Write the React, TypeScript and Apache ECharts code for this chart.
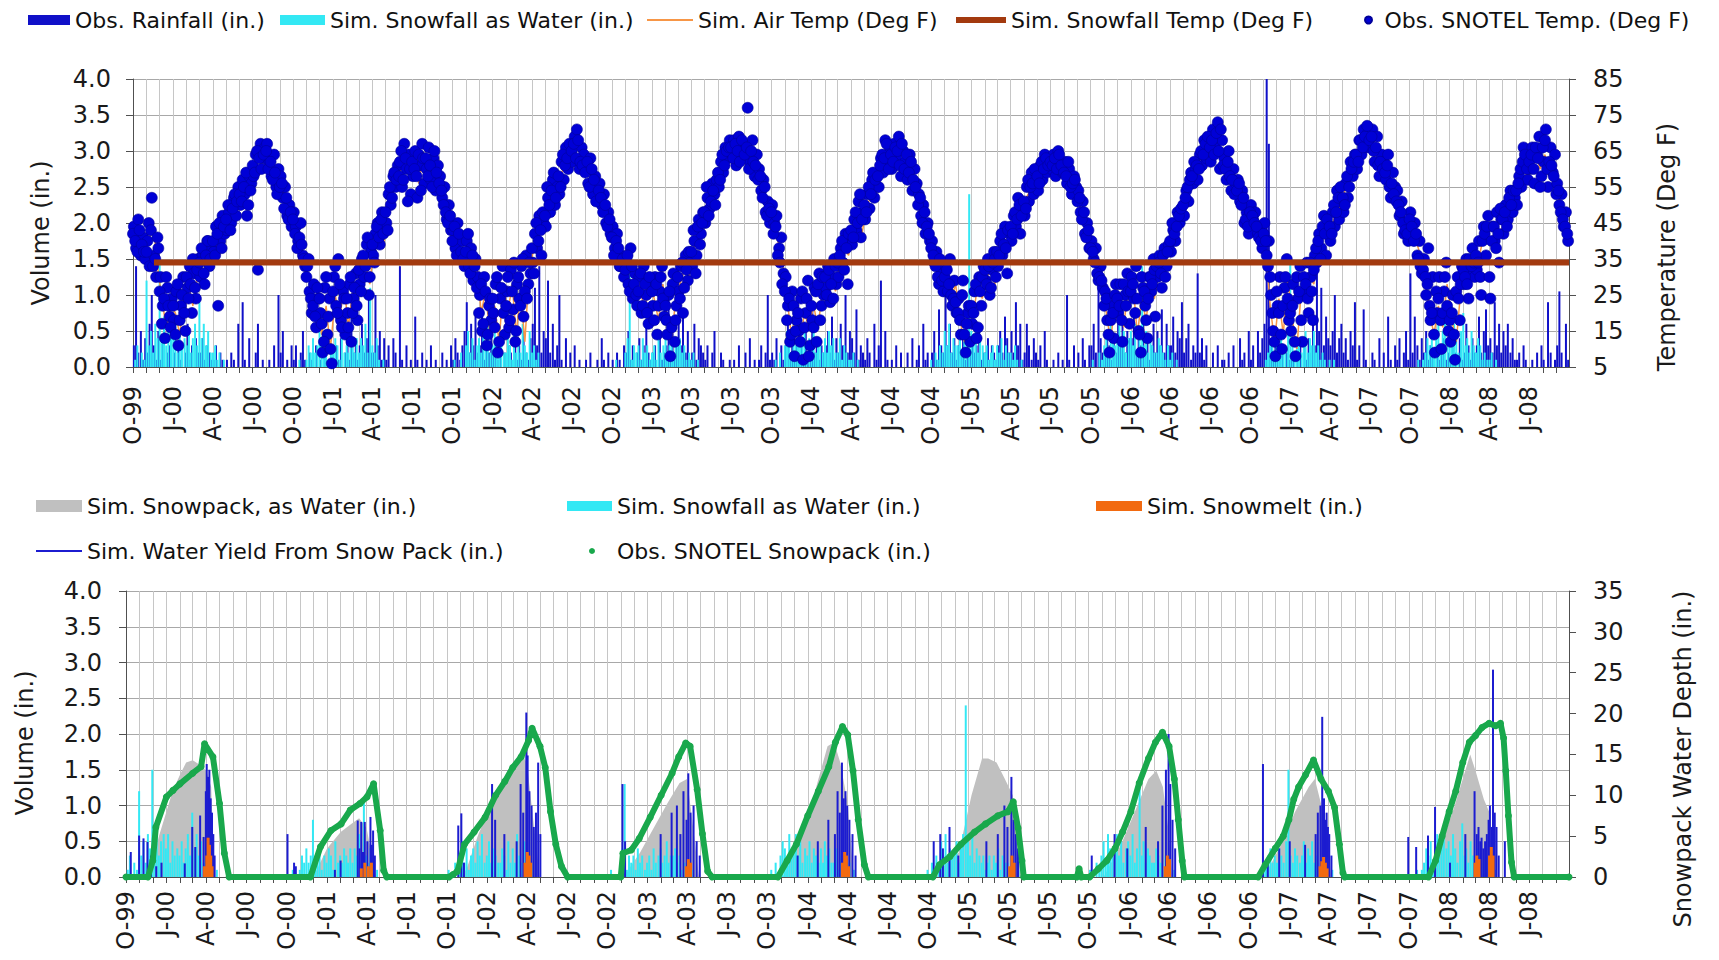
import React, { useEffect, useRef } from "react";
import * as echarts from "echarts";

// ================= DATA =================
// Rows = water years 2000..2008 (Oct..Sep).

// Obs. SNOTEL Temp. (Deg F): 6 readings per month (days ~3, 8, 13, ...)
const obsTempF: number[][] = [
  [44,38,46,36,41,35, 40,33,52,36,30,38, 30,22,13,27,19,24, 18,26,11,22,30,15, 27,33,20,31,24,35, 30,36,28,40,33,38, 37,44,22,40,47,42, 43,48,45,52,47,55, 50,57,53,47,58,56, 58,64,32,67,63,66, 67,62,58,64,55,60, 58,52,55,47,50,44],
  [48,44,40,45,36,33, 33,26,20,28,16,24, 20,9,27,14,24,6, 30,22,35,18,26,14, 20,28,12,24,31,18, 28,35,30,39,25,37, 36,42,45,39,48,44, 45,53,50,58,55,61, 62,55,67,60,64,53, 58,65,52,61,67,56, 60,66,57,63,54,61, 58,52,55,46,50,43],
  [43,38,45,35,40,33, 40,33,38,29,35,30, 25,15,30,11,22,18, 20,28,9,24,33,14, 26,16,32,21,12,28, 24,33,19,36,28,31, 34,42,38,47,36,45, 44,52,48,57,50,55, 53,62,57,66,60,64, 62,69,71,60,66,64, 61,56,63,53,58,55, 56,50,53,45,48,42],
  [44,38,42,33,36,30, 35,28,38,24,31,22, 30,20,33,25,17,28, 22,30,14,26,33,19, 18,25,8,28,12,22, 26,33,20,36,29,34, 33,40,36,46,42,48, 45,52,49,56,53,57, 55,62,59,66,63,68, 64,68,61,69,66,63, 66,77,62,68,58,64, 60,54,57,48,51,45],
  [50,45,47,38,41,31, 30,22,12,26,8,18, 15,24,7,20,29,11, 18,27,12,31,22,25, 27,33,23,30,35,28, 30,38,34,42,28,40, 39,46,43,51,41,48, 46,53,49,57,52,55, 55,63,59,68,61,66, 60,67,63,69,58,65, 62,57,64,54,60,56, 53,47,50,42,45,40],
  [40,34,37,28,32,26, 33,26,35,22,29,20, 24,14,29,9,20,12, 17,26,13,30,22,33, 29,35,25,32,37,30, 33,40,36,44,31,42, 40,47,44,52,42,49, 47,55,51,59,53,57, 54,61,57,64,59,62, 60,64,58,65,62,59, 62,56,60,53,58,55, 54,48,51,42,45,38],
  [40,35,38,29,33,27, 26,18,9,22,13,28, 20,28,12,25,31,17, 30,24,33,15,9,27, 22,13,30,26,35,19, 30,36,27,38,33,39, 37,43,40,48,45,47, 47,54,51,59,56,60, 57,64,61,68,63,66, 62,71,66,73,60,68, 63,57,65,54,60,56, 57,51,54,45,48,42],
  [50,46,48,42,44,38, 45,36,40,25,15,8, 22,30,10,27,35,18, 15,28,8,24,33,12, 26,34,20,30,18,36, 34,42,38,47,36,44, 40,48,44,54,46,51, 48,56,52,62,58,64, 60,68,64,71,66,70, 66,71,62,69,58,64, 62,57,64,52,59,55, 54,47,51,42,45,40],
  [48,42,45,36,40,31, 35,25,38,18,30,9, 20,30,10,26,34,15, 12,25,7,30,18,33, 28,35,24,32,38,30, 32,40,25,44,36,47, 24,44,40,48,34,46, 42,50,46,54,48,52, 50,58,55,66,62,57, 60,66,56,64,69,58, 62,71,55,66,59,64, 56,50,53,44,48,40],
];

// Obs. SNOTEL Temp. (Deg F): further 6 readings per month (days ~1, 6, 11, ...)
const obsTempExtraF: number[][] = [
  [42,40,37,43,39,37, 37,45,43,33,35,41, 26,17,24,30,22,16, 22,14,28,18,25,20, 30,24,28,35,27,32, 34,38,31,36,40,35, 40,36,42,45,38,44, 46,50,43,49,53,51, 53,51,55,59,50,54, 61,59,65,63,60,64, 65,60,62,57,59,53, 55,56,49,52,46,48],
  [46,42,38,41,39,35, 30,35,24,22,19,27, 24,17,12,30,19,10, 26,33,20,28,16,24, 24,16,30,20,27,22, 32,26,36,33,41,30, 39,34,44,41,46,42, 48,43,55,52,59,57, 58,65,57,63,51,60, 62,60,58,64,54,63, 63,58,61,55,65,59, 56,54,50,48,45,47],
  [40,44,36,42,37,35, 37,42,31,36,33,27, 20,28,17,26,14,24, 24,16,30,12,27,20, 22,30,18,26,34,15, 30,22,35,26,24,34, 38,31,45,40,43,48, 47,55,50,54,59,52, 58,55,64,61,63,67, 65,67,63,68,62,61, 59,62,55,60,57,51, 54,52,48,50,44,46],
  [41,36,40,38,33,35, 32,36,26,33,28,25, 26,31,22,28,20,30, 26,18,28,22,30,24, 22,14,26,16,31,18, 30,24,34,27,32,37, 37,43,31,44,39,45, 48,55,47,51,54,50, 59,57,64,61,65,66, 66,63,67,65,62,68, 64,66,60,65,62,61, 57,58,52,55,47,49],
  [48,42,44,36,34,28, 26,18,24,14,22,15, 20,12,26,16,24,8, 22,16,26,28,18,30, 30,25,32,28,24,33, 34,36,40,32,38,42, 43,41,48,45,53,46, 50,48,55,53,59,57, 58,61,64,63,67,60, 64,62,66,65,61,67, 60,64,59,62,57,55, 50,52,45,48,44,42],
  [38,36,33,30,35,29, 30,32,28,25,24,23, 20,18,25,14,17,22, 22,20,28,16,26,30, 32,28,33,27,34,35, 37,36,42,39,38,43, 44,42,48,46,50,47, 51,49,57,55,56,60, 58,56,62,60,63,61, 62,61,63,60,64,61, 59,58,62,55,56,57, 51,52,46,48,41,43],
  [38,37,34,31,30,29, 22,24,14,18,20,25, 24,22,18,28,22,26, 26,28,20,24,14,30, 26,18,24,30,28,32, 33,34,31,36,30,37, 40,45,42,44,47,49, 50,52,55,57,58,62, 61,60,65,64,67,69, 66,68,64,70,65,71, 61,60,62,58,57,53, 54,56,50,52,46,44],
  [48,47,45,44,41,40, 42,40,33,30,20,12, 26,20,14,22,30,24, 20,22,12,30,26,18, 30,28,24,34,26,32, 38,40,35,44,42,46, 44,42,50,48,52,55, 52,50,58,55,60,62, 64,62,68,66,69,72, 68,69,65,66,61,62, 60,59,61,55,56,53, 51,50,48,45,43,42],
  [46,44,40,42,35,33, 32,30,28,22,20,14, 26,24,18,20,30,22, 18,20,14,26,24,28, 32,30,28,35,33,34, 36,34,30,40,42,44, 30,40,44,38,42,49, 46,48,44,52,50,54, 54,56,60,62,64,60, 62,64,60,66,63,55, 66,68,60,62,61,58, 53,54,48,46,44,42],
];

// Sim. Air Temp (Deg F): 3 readings per month
const simAirTempF: number[][] = [
  [42,38,36, 40,45,33, 24,16,22, 20,14,24, 28,22,30, 32,36,38, 40,36,44, 46,50,53, 52,56,55, 60,64,62, 64,58,60, 55,50,46],
  [45,42,36, 30,24,20, 14,22,10, 25,18,28, 16,26,22, 30,34,28, 40,44,38, 50,54,58, 60,64,58, 62,56,63, 60,64,58, 54,50,46],
  [42,38,36, 36,32,34, 20,26,14, 22,12,28, 20,28,14, 26,12,32, 38,42,44, 48,52,54, 58,62,60, 66,62,64, 58,60,55, 52,48,45],
  [40,36,33, 30,34,26, 26,20,30, 24,18,28, 18,12,24, 28,32,30, 38,42,45, 50,54,52, 60,64,62, 66,64,67, 64,62,60, 56,52,48],
  [46,40,35, 24,14,20, 12,20,16, 22,16,26, 28,30,26, 34,38,36, 44,46,42, 50,52,54, 60,64,62, 64,62,66, 60,58,56, 50,46,43],
  [36,32,30, 30,24,28, 18,12,22, 20,28,24, 30,32,28, 36,40,38, 44,46,48, 52,54,56, 58,60,62, 62,60,63, 58,56,57, 50,44,40],
  [36,32,30, 20,12,24, 22,16,28, 28,14,24, 18,28,24, 32,34,36, 42,44,46, 52,55,58, 60,64,62, 66,68,64, 60,58,56, 52,48,44],
  [46,44,40, 38,22,12, 24,14,30, 18,10,26, 24,30,28, 38,42,40, 44,48,50, 54,58,60, 64,66,68, 66,62,64, 60,58,56, 50,46,43],
  [44,40,36, 30,20,14, 22,16,28, 18,12,26, 30,32,34, 34,40,42, 40,44,42, 46,50,52, 56,60,58, 62,64,60, 64,60,62, 52,48,44],
];

// Sim. Snowfall Temp (Deg F): constant threshold
const SNOWFALL_TEMP_F = 34;
const snowfallTempRange: [string, string] = ["1999-11-18", "2008-09-30"];

// Obs. Rainfall (in.): 6 readings per month
const obsRainIn: number[][] = [
  [0.3,1.4,0.2,0.5,0.1,0.4, 0.2,0.6,1.0,0.3,0.1,0.5, 0.1,0.4,0,0.2,0.3,0, 0.2,0,0.3,0.1,0,0.2, 0.6,0.1,0.3,0,0.4,0.2, 0.2,0.4,0.1,0.3,0.2,0.1, 0.1,0.3,0,0.2,0.1,0, 0.1,0,0.2,0.1,0,0.6, 0,0.9,0.1,0,0.4,0, 0,0.2,0.6,0,0.1,0, 0,0.1,0,0.3,0,1.0, 0.2,0.5,0,0.1,0,0.3],
  [0.1,0.3,0,0.2,0.5,0.1, 0,0.2,0.1,0,0.3,0, 0.1,0,0.2,0,0.1,0, 0,0.3,0.1,0.4,0,0.2, 0.5,0.1,0.9,0.2,0.4,0.1, 0.3,0.6,0.2,0.4,1.0,0.2, 0.2,1.0,0.3,0.5,0.1,0.4, 0.1,0.3,0,0.4,0.2,0, 1.4,0.1,0,0.3,0,0.1, 0,0.7,0.1,0,0.2,0, 0.1,0,0.3,0,0.1,0, 0,0.2,0,0.1,0,0.3],
  [0.1,0.4,0.2,0.1,0.3,0.5, 0.9,0.2,0.6,0.3,0.7,0.2, 0.3,0.8,0.1,0.4,0.2,0.5, 0.2,0.4,0.1,0.3,0,0.2, 0.1,0.3,0.2,0,0.4,0.1, 0.3,0.1,0.5,0.2,0.1,0.4, 0.6,1.1,0.3,1.4,0.2,0.5, 0.4,1.2,0.2,0.6,0.1,0.3, 1.0,0.1,0,0.4,0,0.2, 0,0.3,0,0.1,0,0, 0.1,0,0.2,0,0,0.1, 0,0.4,0.1,0,0.2,0],
  [0.1,0,0.2,0.1,0,0.3, 0.2,0.5,0.1,0.3,0,0.2, 0.4,0.1,0.3,0.6,0.2,0.1, 0.2,0.3,0,0.5,0.1,0.2, 0.3,1.0,0.2,0.6,0.1,0.4, 1.2,0.3,0.7,0.2,0.5,0.1, 0.2,0.6,0.1,0.4,0.3,0.2, 0.1,0.3,0,0.2,0.5,0, 0,0.2,0.1,0,0,0.1, 0,0.1,0,0.3,0,0, 0.2,0,0.4,0,0.1,0, 0.1,0.3,0,0.2,1.0,0.1],
  [0.2,0.1,0.4,0,0.3,0.1, 0.3,0.6,0.2,0.4,0.1,0.3, 0.2,0.4,0.1,0.5,0.2,0.3, 0.9,0.2,0.4,0.1,0.3,0.2, 0.3,0.5,0.2,0.7,0.1,0.4, 0.2,0.6,0.3,1.0,0.2,0.5, 0.4,0.2,0.8,0.1,0.3,0.2, 0.1,0.4,0.2,0,0.6,0.1, 0.3,1.2,0,0.5,0.1,0, 0.1,0,0.3,0,0.2,0, 0,0.2,0,0.4,0,0.1, 0.3,0,0.6,0.1,0.2,0],
  [0.2,0.5,0.1,0.8,0.3,0.2, 1.4,0.3,0.6,0.2,0.4,0.1, 0.3,0.2,0.5,0.1,0.4,0.2, 0.4,0.2,0.3,0.6,0.1,0.2, 0.2,0.4,0.1,0.3,0.2,0.1, 0.3,0.5,0.2,0.7,0.4,0.2, 0.5,0.2,0.9,0.3,0.6,0.1, 0.2,0.6,0.3,0.1,0.4,0.2, 0.1,0.3,0,0.5,0.1,0, 0,0.1,0,0.2,0,0.1, 0,1.0,0.1,0,0.3,0, 0.2,0,0.4,0.1,0,0.3],
  [0.3,0.6,0.2,1.5,0.4,0.2, 0.2,0.5,0.3,0.1,0.4,0.2, 0.6,0.3,0.9,0.2,0.5,0.4, 0.4,0.7,0.2,0.5,0.3,0.6, 0.2,0.4,0.1,0.3,0.6,0.2, 0.5,0.3,0.8,0.2,0.6,0.3, 0.3,0.7,0.2,0.5,0.4,0.9, 0.2,0.4,0.6,0.1,0.3,0.2, 1.3,0.2,0.4,0.1,0.3,0, 0,0.2,0,0.3,0,0.1, 0.1,0,0.2,0,0.3,0, 0,0.4,0.1,0.2,0,0.5],
  [0.1,0.3,0,0.5,0.2,0.4, 0.6,4.3,3.1,0.4,0.2,0.3, 0.2,0.1,0.3,0,0.2,0.1, 0.1,0.2,0,0.1,0.3,0, 0.3,0.1,0.4,0.2,0.6,0.3, 1.4,0.5,1.1,0.3,0.7,0.4, 0.3,0.5,1.0,0.2,0.4,0.6, 0.2,0.4,0.1,0.5,0.3,0.9, 0.1,0.3,0,0.8,0.1,0, 0,0.2,0.1,0,0.4,0, 0.2,0,0.7,0.1,0,0.3, 0.1,0.4,0,0.2,0.5,0.1],
  [1.3,0.2,0.7,0.3,0.1,0.4, 0.2,0.5,0.1,0.3,0.2,0, 0.3,0.1,0.2,0.4,0.1,0.2, 0.1,0.3,0.2,0,0.4,0.1, 0.2,0.6,0.3,0.1,0.4,0.2, 0.3,0.7,0.2,0.5,0.8,0.3, 0.4,0.2,0.9,0.3,0.6,0.2, 0.5,0.3,0.6,0.2,0.4,0.1, 0.1,0.2,0,0.3,0.1,0, 0,0.1,0,0.2,0,0.3, 0.1,0,0.9,0.2,0,0.1, 0.3,1.05,0.2,0,0.6,0.1],
];

// Sim. Snowfall as Water (in.): 6 readings per month, Oct..May
const simSnowfallIn: number[][] = [
  [0,0.1,0.3,0,0.2,0.1, 1.2,0.3,0.5,0.2,0.6,0.4, 1.5,0.4,0.7,0.3,0.5,0.6, 0.4,0.6,0.2,0.5,0.3,0.4, 0.3,0.5,0.2,0.4,0.6,0.3, 0.9,0.4,0.6,0.3,0.5,0.2, 0.2,0.3,0.1,0.2,0,0.1, 0,0,0,0,0,0],
  [0,0,0,0.1,0,0, 0.1,0.3,0.2,0.4,0.2,0.3, 0.8,0.3,0.2,0.4,0.1,0.3, 0.2,0.4,0.3,0.1,0.5,0.2, 0.3,0.2,0.4,0.3,0.2,0.4, 0.2,0.4,0.3,0.6,0.2,1.1, 0.3,0.2,0.4,0.1,0,0.1, 0,0,0,0,0,0],
  [0,0.1,0,0,0.2,0, 0.3,0.5,0.2,0.4,0.1,0.3, 0.4,0.2,0.5,0.3,0.6,0.2, 0.3,0.5,0.2,0.4,0.3,0.2, 0.2,0.4,0.3,0.1,0.5,0.2, 0.4,0.2,0.6,0.3,0.2,0.5, 0.2,0.3,0.1,0.2,0,0, 0,0,0,0,0,0],
  [0,0,0.1,0,0,0, 0.2,0.4,1.3,0.1,0.3,0.2, 0.3,0.1,0.4,0.2,0.3,0.1, 0.2,0.3,0.1,0.4,0.2,0.3, 0.4,0.2,0.3,0.5,0.2,0.3, 0.3,0.4,0.2,0.3,0.1,0.2, 0.1,0.2,0,0.1,0,0, 0,0,0,0,0,0],
  [0,0,0.1,0,0.2,0, 0.3,0.5,0.4,0.2,0.6,0.3, 0.4,0.6,0.3,0.5,0.2,0.4, 0.3,0.5,0.2,0.4,0.3,0.2, 0.4,0.2,0.5,0.3,0.4,0.2, 0.2,0.4,0.1,0.3,0.2,0.1, 0.1,0.2,0,0.1,0,0, 0,0,0,0,0,0],
  [0.1,0,0.2,0.1,0.3,0.2, 0.5,0.3,0.6,0.2,0.4,0.3, 0.3,0.5,0.2,0.4,0.6,2.4, 0.5,0.3,0.6,0.2,0.4,0.3, 0.2,0.3,0.1,0.2,0.3,0.1, 0.3,0.2,0.4,0.1,0.3,0.2, 0.2,0.1,0.3,0.1,0,0.1, 0,0,0,0,0,0],
  [0,0.1,0,0,0.2,0.1, 0.3,0.5,0.2,0.6,0.4,0.3, 0.4,0.6,0.3,0.5,0.2,0.4, 0.5,0.3,0.6,0.2,0.4,1.4, 0.3,0.5,0.2,0.4,0.3,0.2, 0.2,0.4,0.3,0.2,0.1,0.3, 0.1,0.2,0,0.1,0,0, 0,0,0,0,0,0],
  [0,0,0,0,0,0, 0,0.1,0.2,0.3,0.4,0.2, 0.3,0.2,0.4,0.3,0.2,0.5, 1.5,0.3,0.2,0.4,0.3,0.2, 0.3,0.5,0.2,0.4,0.3,0.5, 0.2,0.3,0.1,0.2,0.1,0, 0.1,0,0.1,0,0,0, 0,0,0,0,0,0],
  [0,0,0,0,0.1,0, 0.1,0.2,0.4,0.3,0.5,0.2, 0.4,0.6,0.3,0.5,0.7,0.4, 0.5,0.3,0.6,0.4,0.2,0.5, 0.75,0.3,0.4,0.2,0.5,0.3, 0.2,0.4,0.3,0.1,0.2,0.1, 0.1,0.2,0,0.1,0,0, 0,0,0,0,0,0],
];

// Sim. Snowpack, as Water (in.) – right axis
const simSnowpackIn: [string, number][] = [
  ["1999-11-20",0],["1999-12-01",2],["1999-12-15",5],["2000-01-01",8],["2000-01-15",10.5],["2000-02-01",12.5],["2000-02-15",14],["2000-03-01",14.3],["2000-03-15",13.8],["2000-04-01",13],["2000-04-12",11],["2000-04-20",0],
  ["2000-11-25",0],["2000-12-05",0.5],["2001-01-01",3.5],["2001-02-01",5.5],["2001-02-25",6.5],["2001-03-15",7.2],["2001-04-01",6],["2001-04-15",2],["2001-04-22",0],
  ["2001-11-01",0],["2001-11-15",1],["2001-12-10",5],["2002-01-10",9],["2002-02-05",11],["2002-03-01",13.5],["2002-03-20",15],["2002-04-01",14],["2002-04-20",5],["2002-04-30",0],
  ["2002-11-10",0],["2002-11-20",1],["2002-12-15",3],["2003-01-15",6],["2003-02-15",9],["2003-03-15",11.5],["2003-04-01",12],["2003-04-15",6],["2003-04-28",0],
  ["2003-11-05",0],["2003-11-15",1],["2003-12-15",5],["2004-01-15",10],["2004-02-15",16],["2004-03-01",16.5],["2004-03-15",14],["2004-04-01",9],["2004-04-10",3],["2004-04-15",0],
  ["2004-10-20",0],["2004-10-30",1],["2004-12-10",3],["2005-01-08",10],["2005-02-01",14.5],["2005-02-15",14.5],["2005-03-06",14],["2005-03-25",12],["2005-04-12",10],["2005-04-25",3],["2005-05-02",0],
  ["2005-11-05",0],["2005-11-15",1],["2005-12-15",4],["2006-01-15",8],["2006-02-15",12],["2006-03-05",13],["2006-03-20",11],["2006-04-01",6],["2006-04-10",0],
  ["2006-11-05",0],["2006-11-15",1],["2006-12-15",4],["2007-01-15",8],["2007-02-15",11],["2007-03-01",12],["2007-03-15",9],["2007-04-01",4],["2007-04-07",0],
  ["2007-11-10",0],["2007-11-20",1],["2007-12-15",4],["2008-01-15",9],["2008-02-01",12],["2008-02-18",15],["2008-03-01",13],["2008-03-20",9.5],["2008-04-01",8],["2008-04-08",0],
];

// Obs. SNOTEL Snowpack (in.) – right axis
const obsSnowpackIn: [string, number][] = [
  ["1999-10-01",0],
  ["1999-11-20",0],["1999-12-01",2],["1999-12-08",6.1],["2000-01-01",9.8],["2000-01-16",10.6],["2000-02-01",11.4],["2000-03-01",12.7],["2000-03-20",13.5],["2000-03-28",16.3],["2000-04-16",14.7],["2000-05-01",9],["2000-05-12",2.9],["2000-05-23",0],
  ["2000-11-24",0],["2000-12-17",3.7],["2001-01-10",5.7],["2001-02-02",6.5],["2001-02-23",8.2],["2001-03-17",9],["2001-04-02",9.8],["2001-04-17",11.4],["2001-05-02",5.7],["2001-05-10",0.8],["2001-05-17",0],
  ["2001-10-06",0],["2001-10-15",0.3],["2001-10-25",0.7],["2001-11-10",4],["2001-12-02",5.5],["2001-12-27",7.3],["2002-01-20",10],["2002-02-10",11.7],["2002-02-28",13.4],["2002-03-19",14.7],["2002-04-05",16.7],["2002-04-13",18.2],["2002-05-01",16],["2002-05-13",13.4],["2002-05-25",8],["2002-06-06",4],["2002-06-19",1.3],["2002-07-03",0],
  ["2002-11-01",0],["2002-11-06",2.9],["2002-11-25",3.3],["2002-12-13",4.7],["2003-01-07",7.3],["2003-02-01",10],["2003-02-26",12.7],["2003-03-13",14.7],["2003-03-29",16.4],["2003-04-08",16],["2003-04-24",10.7],["2003-05-06",5.3],["2003-05-18",0.7],["2003-05-28",0],
  ["2003-10-25",0],["2003-11-15",2],["2003-12-06",4],["2004-01-01",7.5],["2004-01-25",10.5],["2004-02-18",13.5],["2004-03-04",16.5],["2004-03-20",18.4],["2004-04-01",17.4],["2004-04-13",13],["2004-04-25",7],["2004-05-09",1.5],["2004-05-18",0],
  ["2004-10-12",0],["2004-10-27",1.5],["2004-11-20",2.5],["2004-12-15",4],["2005-01-15",5.5],["2005-02-09",6.5],["2005-03-09",7.5],["2005-04-01",8],["2005-04-13",9.2],["2005-04-24",6],["2005-05-03",2],["2005-05-07",0],
  ["2005-09-05",0],["2005-09-10",1],["2005-09-15",0],
  ["2005-10-04",0],["2005-10-24",1],["2005-11-12",2],["2005-12-01",3.5],["2005-12-18",5.5],["2006-01-06",8],["2006-01-25",11.5],["2006-02-15",14.5],["2006-03-03",16.5],["2006-03-19",17.7],["2006-04-03",16],["2006-04-15",12],["2006-04-24",7],["2006-05-03",2],["2006-05-08",0],
  ["2006-10-23",0],["2006-11-08",1.5],["2006-12-01",3.5],["2006-12-19",5],["2007-01-01",7],["2007-01-12",9.5],["2007-01-23",11],["2007-02-08",12.5],["2007-02-26",14.3],["2007-03-15",12],["2007-04-01",10.5],["2007-04-15",8.5],["2007-04-26",4],["2007-05-04",0.5],["2007-05-08",0],
  ["2007-11-15",0],["2007-12-01",2],["2007-12-16",5],["2008-01-01",8],["2008-01-16",10.5],["2008-02-01",14],["2008-02-16",16.5],["2008-03-01",17.3],["2008-03-16",18.3],["2008-04-01",18.8],["2008-04-16",18.5],["2008-04-27",18.8],["2008-05-04",17],["2008-05-09",13],["2008-05-15",7.5],["2008-05-22",1.8],["2008-05-28",0],
  ["2008-09-30",0],
];

// Sim. Water Yield From Snow Pack (in.) – left axis
const simWaterYieldIn: [string, number][] = [
  ["1999-10-13",0.35],["1999-11-01",0.58],["1999-11-11",0.54],["1999-11-20",0.49],["1999-11-28",0.3],["1999-12-10",0.15],["1999-12-22",0.2],["2000-02-13",0.19],["2000-03-01",0.7],["2000-03-08",0.42],["2000-03-19",0.86],["2000-03-27",0.56],["2000-04-01",1.2],["2000-04-03",1.58],["2000-04-06",1.4],["2000-04-09",1.5],["2000-04-12",1.1],["2000-04-15",0.9],["2000-04-18",0.6],["2000-04-21",0.3],
  ["2000-10-04",0.6],["2000-10-19",0.2],["2000-10-23",0.15],["2001-01-20",0.1],["2001-02-02",0.23],["2001-03-13",0.79],["2001-03-17",0.4],["2001-03-21",0.77],["2001-03-25",0.35],["2001-03-29",0.77],["2001-04-04",0.5],["2001-04-11",0.84],["2001-04-14",0.45],["2001-04-17",0.65],["2001-04-21",0.3],
  ["2001-10-28",0.72],["2001-11-04",0.89],["2001-11-10",0.2],["2002-01-13",1.3],["2002-01-20",0.8],["2002-02-10",0.6],["2002-03-10",0.5],["2002-03-19",1.3],["2002-03-25",0.9],["2002-04-01",2.3],["2002-04-04",1.7],["2002-04-08",1.2],["2002-04-13",1.0],["2002-04-18",0.7],["2002-04-23",0.9],["2002-04-28",1.6],["2002-05-03",0.6],
  ["2002-11-06",1.3],["2002-11-12",0.5],["2003-02-01",0.6],["2003-02-26",0.9],["2003-03-10",1.0],["2003-03-18",0.6],["2003-03-25",1.2],["2003-04-01",0.8],["2003-04-05",1.45],["2003-04-10",0.9],["2003-04-17",1.0],["2003-04-24",0.5],["2003-05-01",0.3],
  ["2003-12-10",0.3],["2004-01-25",0.5],["2004-02-18",0.8],["2004-03-04",0.6],["2004-03-10",1.2],["2004-03-15",0.9],["2004-03-20",1.6],["2004-03-24",1.1],["2004-03-28",1.2],["2004-04-01",1.0],["2004-04-06",0.8],["2004-04-13",0.6],["2004-04-20",0.3],
  ["2004-10-15",0.5],["2004-10-30",0.6],["2004-11-05",0.4],["2004-11-20",0.7],["2004-12-10",0.3],["2005-02-12",0.5],["2005-03-10",0.6],["2005-03-25",1.0],["2005-04-01",0.7],["2005-04-10",1.4],["2005-04-15",0.8],["2005-04-20",0.6],["2005-04-25",0.4],
  ["2005-10-10",0.3],["2005-12-01",0.6],["2005-12-30",0.4],["2006-02-10",0.7],["2006-03-10",0.5],["2006-03-20",1.0],["2006-03-28",1.5],["2006-04-03",2.0],["2006-04-07",1.3],["2006-04-12",0.8],["2006-04-18",0.4],
  ["2006-11-04",1.58],["2006-11-15",0.2],["2006-12-11",0.4],["2007-01-04",0.5],["2007-02-08",0.45],["2007-03-04",0.6],["2007-03-09",0.9],["2007-03-15",1.0],["2007-03-19",2.24],["2007-03-23",1.1],["2007-03-26",0.8],["2007-03-29",0.9],["2007-04-01",0.7],["2007-04-04",0.6],["2007-04-09",0.3],
  ["2007-10-01",0.56],["2007-10-19",0.42],["2007-11-15",0.58],["2007-12-01",0.98],["2008-01-04",0.2],["2008-02-08",0.6],["2008-02-29",1.2],["2008-03-05",0.6],["2008-03-09",0.7],["2008-03-13",0.5],["2008-03-16",0.55],["2008-03-20",0.4],["2008-03-24",0.5],["2008-03-28",0.6],["2008-04-01",0.8],["2008-04-04",1.0],["2008-04-08",0.7],["2008-04-11",2.9],["2008-04-15",0.9],["2008-04-19",0.7],["2008-04-24",0.3],["2008-05-08",0.5],
];

// Sim. Snowmelt (in.) – left axis
const simSnowmeltIn: [string, number][] = [
  ["2000-03-28",0.15],["2000-04-02",0.3],["2000-04-05",0.55],["2000-04-08",0.45],["2000-04-11",0.3],["2000-04-14",0.15],
  ["2001-03-20",0.12],["2001-03-28",0.2],["2001-04-05",0.15],["2001-04-12",0.2],
  ["2002-03-28",0.2],["2002-04-02",0.35],["2002-04-06",0.3],["2002-04-10",0.2],
  ["2003-03-30",0.15],["2003-04-04",0.25],["2003-04-09",0.2],
  ["2004-03-20",0.2],["2004-03-25",0.35],["2004-03-29",0.3],["2004-04-03",0.15],
  ["2005-04-05",0.15],["2005-04-10",0.3],["2005-04-15",0.2],
  ["2006-03-25",0.15],["2006-03-30",0.3],["2006-04-04",0.25],
  ["2007-03-13",0.15],["2007-03-17",0.22],["2007-03-21",0.28],["2007-03-25",0.2],["2007-03-29",0.12],
  ["2008-02-29",0.2],["2008-03-04",0.3],["2008-03-09",0.25],["2008-04-02",0.3],["2008-04-06",0.42],["2008-04-10",0.3],
];

const tempTicks = [5, 15, 25, 35, 45, 55, 65, 75, 85];
const monthLetters: Record<string, string> = { "01": "J", "04": "A", "07": "J", "10": "O" };

// ================= helpers =================
const FONT = "DejaVu Sans";
const DAY_MS = 86400000;
const START_MS = Date.UTC(1999, 9, 1);
const END_MS = Date.UTC(2008, 8, 30);
const N_DAYS = Math.round((END_MS - START_MS) / DAY_MS) + 1;

const dateCats: string[] = [];
for (let i = 0; i < N_DAYS; i++) dateCats.push(new Date(START_MS + i * DAY_MS).toISOString().slice(0, 10));

const dayIndex = (iso: string) => {
  const [y, m, d] = iso.split("-").map(Number);
  return Math.round((Date.UTC(y, m - 1, d) - START_MS) / DAY_MS);
};

const slotDay = (wy: number, mm: number, k: number, n: number, off: number) => {
  const first = Date.UTC(1999 + wy, 9 + mm, 1);
  const next = Date.UTC(1999 + wy, 10 + mm, 1);
  const dim = Math.round((next - first) / DAY_MS);
  return Math.round((first - START_MS) / DAY_MS) + Math.min(dim - 1, Math.floor(((k + off) * dim) / n));
};

const fromRows = (rows: number[][], perMonth: number, off: number) =>
  rows.flatMap((row, wy) =>
    row.map((v, i) => [slotDay(wy, Math.floor(i / perMonth), i % perMonth, perMonth, off), v])
  );
const fromPairs = (p: [string, number][]) => p.map(([d, v]) => [dayIndex(d), v]);

const isMonthStart = (_i: number, v: string) => v.slice(8, 10) === "01";
const isQuarterStart = (_i: number, v: string) => v.slice(8, 10) === "01" && v.slice(5, 7) in monthLetters;
const quarterLabel = (v: string) => `${monthLetters[v.slice(5, 7)] ?? ""}-${v.slice(2, 4)}`;

// colours
const C_RAIN = "#1010C8";
const C_CYAN = "#33E8F4";
const C_AIR = "#F79646";
const C_BROWN = "#A33A0F";
const C_DOT = "#0000D6";
const C_GRAY = "#C0C0C0";
const C_MELT = "#F26A10";
const C_YIELD = "#1C1CD0";
const C_GREEN = "#19A84C";
const C_AXIS = "#505050";

export default function App() {
  const ref = useRef<HTMLDivElement>(null);

  useEffect(() => {
    if (!ref.current) return;
    const chart = echarts.init(ref.current, undefined, { renderer: "svg" });

    const axisText = { fontFamily: FONT, fontSize: 24, color: "#1a1a1a" };
    const xAxisFor = (gridIndex: number, margin: number) => ({
      type: "category",
      gridIndex,
      data: dateCats,
      boundaryGap: false,
      axisLine: { show: true, lineStyle: { color: C_AXIS, width: 1 } },
      axisTick: { show: true, interval: isMonthStart, length: 6, lineStyle: { color: C_AXIS } },
      axisLabel: { ...axisText, interval: isQuarterStart, rotate: 90, margin, formatter: quarterLabel },
      splitLine: { show: true, interval: isMonthStart, lineStyle: { color: "#C6C6C6", width: 1 } },
    });
    const volAxis = (gridIndex: number, margin: number) => ({
      type: "value",
      gridIndex,
      position: "left",
      min: 0,
      max: 4,
      interval: 0.5,
      axisLine: { show: true, lineStyle: { color: C_AXIS } },
      axisTick: { show: true, length: 7, lineStyle: { color: C_AXIS } },
      axisLabel: { ...axisText, margin, formatter: (v: number) => v.toFixed(1) },
      splitLine: { show: true, lineStyle: { color: "#A8A8A8", width: 1 } },
    });

    const legendItem = (name: string, left: number, top: number, icon: string, w: number, h: number) => ({
      data: [name],
      left,
      top,
      icon,
      itemWidth: w,
      itemHeight: h,
      itemGap: 0,
      padding: 0,
      selectedMode: false,
      textStyle: { fontFamily: FONT, fontSize: 22, color: "#111", padding: [0, 0, 0, 0] },
    });

    const snowData = fromRows(simSnowfallIn, 6, 0.05);
    const tempDots = [...fromRows(obsTempF, 6, 0.5), ...fromRows(obsTempExtraF, 6, 0.0)];

    const option: any = {
      animation: false,
      backgroundColor: "#ffffff",
      textStyle: { fontFamily: FONT },
      grid: [
        { left: 133, top: 79, width: 1436, height: 288 },
        { left: 126, top: 591, width: 1443, height: 286 },
      ],
      legend: [
        legendItem("Obs. Rainfall (in.)", 28, 9, "rect", 42, 10),
        legendItem("Sim. Snowfall as Water (in.)", 280, 9, "rect", 45, 10),
        legendItem("Sim. Air Temp (Deg F)", 647, 9, "rect", 46, 2),
        legendItem("Sim. Snowfall Temp (Deg F)", 956, 9, "rect", 50, 6),
        legendItem("Obs. SNOTEL Temp. (Deg F)", 1364, 9, "circle", 22, 7),
        legendItem("Sim. Snowpack, as Water (in.)", 36, 495, "rect", 46, 12),
        legendItem("Sim. Snowfall as Water (in.)", 567, 495, "rect", 45, 10),
        legendItem("Sim. Snowmelt (in.)", 1096, 495, "rect", 46, 10),
        legendItem("Sim. Water Yield From Snow Pack (in.)", 36, 540, "rect", 46, 2),
        legendItem("Obs. SNOTEL Snowpack (in.)", 589, 540, "circle", 40, 6),
      ],
      xAxis: [xAxisFor(0, 19), xAxisFor(1, 14)],
      yAxis: [
        volAxis(0, 22),
        {
          type: "value",
          gridIndex: 0,
          position: "right",
          min: 5,
          max: 85,
          axisLine: { show: true, lineStyle: { color: C_AXIS } },
          axisTick: { show: true, length: 7, customValues: tempTicks, lineStyle: { color: C_AXIS } },
          axisLabel: { ...axisText, margin: 24, customValues: tempTicks },
          splitLine: { show: false },
        },
        volAxis(1, 24),
        {
          type: "value",
          gridIndex: 1,
          position: "right",
          min: 0,
          max: 35,
          interval: 5,
          axisLine: { show: true, lineStyle: { color: C_AXIS } },
          axisTick: { show: true, length: 7, lineStyle: { color: C_AXIS } },
          axisLabel: { ...axisText, margin: 24 },
          splitLine: { show: false },
        },
      ],
      series: [
        // ---- top panel ----
        {
          name: "Obs. Rainfall (in.)",
          type: "bar",
          xAxisIndex: 0,
          yAxisIndex: 0,
          data: fromRows(obsRainIn, 6, 0.5),
          barWidth: 2,
          barGap: "-100%",
          itemStyle: { color: C_RAIN },
          z: 2,
        },
        {
          name: "Sim. Snowfall as Water (in.)",
          type: "bar",
          xAxisIndex: 0,
          yAxisIndex: 0,
          data: snowData,
          barWidth: 2,
          barGap: "-100%",
          itemStyle: { color: C_CYAN },
          z: 3,
        },
        {
          name: "Sim. Air Temp (Deg F)",
          type: "line",
          xAxisIndex: 0,
          yAxisIndex: 1,
          data: fromRows(simAirTempF, 3, 0.5),
          showSymbol: false,
          lineStyle: { color: C_AIR, width: 1.5 },
          itemStyle: { color: C_AIR },
          z: 4,
        },
        {
          name: "Obs. SNOTEL Temp. (Deg F)",
          type: "scatter",
          xAxisIndex: 0,
          yAxisIndex: 1,
          data: tempDots,
          symbolSize: 11,
          itemStyle: { color: C_DOT, opacity: 1, borderColor: "#00009A", borderWidth: 0.6 },
          z: 5,
        },
        {
          name: "Sim. Snowfall Temp (Deg F)",
          type: "line",
          xAxisIndex: 0,
          yAxisIndex: 1,
          data: snowfallTempRange.map((d) => [dayIndex(d), SNOWFALL_TEMP_F]),
          showSymbol: false,
          lineStyle: { color: C_BROWN, width: 6 },
          itemStyle: { color: C_BROWN },
          z: 6,
        },
        // ---- bottom panel ----
        {
          name: "Sim. Snowpack, as Water (in.)",
          type: "line",
          xAxisIndex: 1,
          yAxisIndex: 3,
          data: fromPairs(simSnowpackIn),
          showSymbol: false,
          lineStyle: { width: 0, color: C_GRAY },
          itemStyle: { color: C_GRAY },
          areaStyle: { color: C_GRAY, opacity: 1 },
          z: 1,
        },
        {
          name: "Sim. Snowfall as Water (in.)",
          type: "bar",
          xAxisIndex: 1,
          yAxisIndex: 2,
          data: snowData,
          barWidth: 2,
          barGap: "-100%",
          itemStyle: { color: C_CYAN },
          z: 2,
        },
        {
          name: "Sim. Water Yield From Snow Pack (in.)",
          type: "bar",
          xAxisIndex: 1,
          yAxisIndex: 2,
          data: fromPairs(simWaterYieldIn),
          barWidth: 2,
          barGap: "-100%",
          itemStyle: { color: C_YIELD },
          z: 3,
        },
        {
          name: "Sim. Snowmelt (in.)",
          type: "bar",
          xAxisIndex: 1,
          yAxisIndex: 2,
          data: fromPairs(simSnowmeltIn),
          barWidth: 3,
          barGap: "-100%",
          itemStyle: { color: C_MELT },
          z: 4,
        },
        {
          name: "Obs. SNOTEL Snowpack (in.)",
          type: "line",
          xAxisIndex: 1,
          yAxisIndex: 3,
          data: fromPairs(obsSnowpackIn),
          symbol: "circle",
          symbolSize: 7,
          showSymbol: true,
          showAllSymbol: true,
          lineStyle: { color: C_GREEN, width: 6 },
          itemStyle: { color: C_GREEN },
          z: 5,
        },
      ],
      graphic: [
        { type: "text", x: 41, y: 233, rotation: Math.PI / 2, style: { text: "Volume (in.)", font: `24px '${FONT}'`, fill: "#1a1a1a", align: "center", verticalAlign: "middle" } },
        { type: "text", x: 1667, y: 247, rotation: Math.PI / 2, style: { text: "Temperature (Deg F)", font: `24px '${FONT}'`, fill: "#1a1a1a", align: "center", verticalAlign: "middle" } },
        { type: "text", x: 25, y: 743, rotation: Math.PI / 2, style: { text: "Volume (in.)", font: `24px '${FONT}'`, fill: "#1a1a1a", align: "center", verticalAlign: "middle" } },
        { type: "text", x: 1683, y: 759, rotation: Math.PI / 2, style: { text: "Snowpack Water Depth (in.)", font: `24px '${FONT}'`, fill: "#1a1a1a", align: "center", verticalAlign: "middle" } },
      ],
    };

    chart.setOption(option);
    return () => chart.dispose();
  }, []);

  return (
    <div
      ref={ref}
      style={{ position: "fixed", left: 0, top: 0, width: 1719, height: 960, background: "#fff" }}
    />
  );
}
